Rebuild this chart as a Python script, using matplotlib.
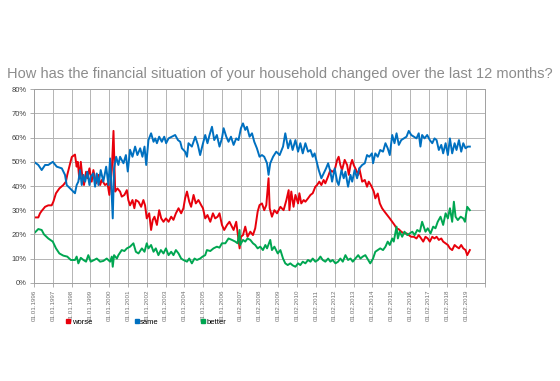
import matplotlib
matplotlib.use("Agg")
import matplotlib.pyplot as plt
from matplotlib.lines import Line2D

plt.rcParams['font.family'] = ['Liberation Sans', 'DejaVu Sans']

# decimal years and percentages
worse_t = [1996.00, 1996.23, 1996.32, 1996.41, 1996.59, 1996.76, 1996.94, 1997.03, 1997.17, 1997.35,
           1997.56, 1997.70, 1997.77, 1997.88, 1998.01, 1998.18, 1998.27, 1998.33, 1998.41, 1998.49,
           1998.59, 1998.66, 1998.77, 1998.84, 1998.95, 1999.07, 1999.16, 1999.30, 1999.43, 1999.52,
           1999.61, 1999.78, 1999.91, 2000.01, 2000.14, 2000.23, 2000.32, 2000.44, 2000.58, 2000.67,
           2000.81, 2000.94, 2001.02, 2001.11, 2001.24, 2001.34, 2001.42, 2001.56, 2001.70, 2001.82,
           2001.91, 2002.00, 2002.13, 2002.23, 2002.32, 2002.41, 2002.54, 2002.66, 2002.77, 2002.89,
           2003.02, 2003.16, 2003.30, 2003.42, 2003.55, 2003.69, 2003.83, 2003.95, 2004.04, 2004.14,
           2004.26, 2004.36, 2004.49, 2004.61, 2004.75, 2004.90, 2004.99, 2005.11, 2005.23, 2005.38,
           2005.52, 2005.64, 2005.77, 2005.87, 2006.00, 2006.12, 2006.27, 2006.40, 2006.53, 2006.62,
           2006.76, 2006.83, 2006.94, 2007.01, 2007.12, 2007.24, 2007.36, 2007.51, 2007.65, 2007.77,
           2007.90, 2008.00, 2008.13, 2008.25, 2008.36, 2008.48, 2008.54, 2008.66, 2008.79, 2008.93,
           2009.11, 2009.28, 2009.43, 2009.55, 2009.59, 2009.69, 2009.81, 2009.91, 2010.05, 2010.12,
           2010.22, 2010.35, 2010.44, 2010.58, 2010.71, 2010.83, 2010.97, 2011.06, 2011.18, 2011.29,
           2011.41, 2011.50, 2011.65, 2011.77, 2011.86, 2012.00, 2012.13, 2012.21, 2012.30, 2012.39,
           2012.53, 2012.66, 2012.75, 2012.84, 2012.93, 2013.01, 2013.14, 2013.25, 2013.31, 2013.46,
           2013.60, 2013.72, 2013.81, 2013.95, 2014.08, 2014.16, 2014.29, 2014.40, 2014.52, 2014.65,
           2014.79, 2014.93, 2015.06, 2015.18, 2015.29, 2015.41, 2015.54, 2015.68, 2015.82, 2015.94,
           2016.07, 2016.21, 2016.35, 2016.47, 2016.60, 2016.71, 2016.83, 2016.95, 2017.06, 2017.19,
           2017.31, 2017.42, 2017.54, 2017.67, 2017.77, 2017.90, 2018.02, 2018.13, 2018.25, 2018.38,
           2018.48, 2018.61, 2018.73, 2018.84, 2018.96, 2019.05, 2019.19]
worse = [27, 27, 28.7, 29.7, 31.4, 32, 32, 33.5, 37, 39,
         40.4, 41.8, 44.6, 48, 52, 53, 48, 50, 43, 50,
         42.5, 40.4, 45.9, 43.2, 47.3, 41.8, 46.6, 41.1, 44.6, 40.4,
         42.5, 40.4, 41.1, 36.3, 46.6, 62.8, 37.7, 39, 37.7, 35.6,
         36.3, 38.3, 34.2, 32, 34.2, 30.8, 34.2, 33.5, 31.4, 34.2,
         32, 26.6, 28.7, 21.8, 26, 27.3, 23.9, 30, 26.6, 25.2,
         26.6, 25.2, 27.3, 26, 28.7, 30.8, 28.7, 30.8, 34.9, 37.7,
         33.5, 31.4, 36.3, 32.8, 34.2, 32, 30.8, 26.6, 28, 25.2,
         28.7, 26.6, 27.3, 28.7, 23.9, 21.8, 23.9, 25.2, 23.2, 21.8,
         25.2, 21, 14.2, 19, 19.7, 23.2, 19, 21.1, 19.7, 22.5,
         29.4, 32.1, 32.8, 30, 32.1, 43.2, 30.8, 27.3, 30, 28.7,
         31.4, 30, 34.2, 38.3, 30, 37.7, 31.4, 36.3, 32.8, 37,
         32.8, 34.2, 33.5, 34.9, 36.3, 37, 39.7, 40.4, 41.8, 40.4,
         42.5, 41.1, 44, 46.6, 45.9, 46.6, 50.8, 52.1, 48.7, 46.6,
         50.8, 48.7, 44.6, 48.7, 50.8, 48.7, 46.6, 44.6, 47.3, 41.8,
         42.5, 39.7, 41.8, 40, 37.7, 34.9, 36.9, 32.8, 30.8, 29.4,
         28, 26.6, 25.2, 23.9, 22.5, 22.1, 21.1, 20.4, 20.4, 19.7,
         19, 19, 18.3, 19.7, 18.3, 17, 19, 18.3, 17, 19,
         18.3, 19, 17.7, 18.3, 17, 16.3, 15.6, 14.2, 13.5, 15.6,
         14.9, 14.2, 15.6, 14.2, 13.5, 11.4, 13.5]

same_t = [1996.00, 1996.23, 1996.41, 1996.59, 1996.76, 1997.00, 1997.21, 1997.48, 1997.65, 1997.74,
          1997.92, 1998.18, 1998.27, 1998.36, 1998.45, 1998.54, 1998.63, 1998.72, 1998.84, 1998.95,
          1999.02, 1999.16, 1999.25, 1999.34, 1999.43, 1999.55, 1999.69, 1999.84, 1999.96, 2000.05,
          2000.19, 2000.26, 2000.37, 2000.49, 2000.58, 2000.76, 2000.89, 2000.99, 2001.11, 2001.24,
          2001.38, 2001.50, 2001.65, 2001.77, 2001.88, 2001.97, 2002.09, 2002.23, 2002.36, 2002.45,
          2002.54, 2002.66, 2002.80, 2002.93, 2003.03, 2003.16, 2003.34, 2003.51, 2003.66, 2003.78,
          2003.87, 2004.04, 2004.14, 2004.22, 2004.40, 2004.58, 2004.72, 2004.84, 2004.97, 2005.11,
          2005.23, 2005.34, 2005.47, 2005.59, 2005.73, 2005.87, 2006.00, 2006.09, 2006.23, 2006.35,
          2006.48, 2006.62, 2006.76, 2006.88, 2007.01, 2007.12, 2007.24, 2007.33, 2007.47, 2007.60,
          2007.72, 2007.86, 2008.00, 2008.13, 2008.25, 2008.40, 2008.48, 2008.57, 2008.72, 2008.89,
          2009.07, 2009.25, 2009.37, 2009.52, 2009.64, 2009.76, 2009.91, 2010.05, 2010.17, 2010.30,
          2010.44, 2010.58, 2010.71, 2010.83, 2010.93, 2011.06, 2011.15, 2011.29, 2011.41, 2011.54,
          2011.65, 2011.77, 2011.86, 2012.00, 2012.13, 2012.21, 2012.36, 2012.48, 2012.57, 2012.71,
          2012.84, 2012.93, 2013.06, 2013.19, 2013.31, 2013.46, 2013.60, 2013.72, 2013.84, 2013.98,
          2014.04, 2014.16, 2014.29, 2014.42, 2014.57, 2014.70, 2014.82, 2014.93, 2015.06, 2015.18,
          2015.29, 2015.41, 2015.54, 2015.68, 2015.82, 2015.94, 2016.07, 2016.21, 2016.35, 2016.47,
          2016.56, 2016.65, 2016.78, 2016.92, 2017.06, 2017.19, 2017.31, 2017.42, 2017.54, 2017.67,
          2017.77, 2017.90, 2018.02, 2018.13, 2018.25, 2018.38, 2018.48, 2018.61, 2018.73, 2018.84,
          2018.96, 2019.08, 2019.19]
same = [50, 48.7, 46.6, 48.7, 48.7, 50, 48, 47.3, 44.6, 40.4,
        39, 37, 40.4, 41.8, 46.6, 40.4, 44.6, 41.8, 45.9, 40.4,
        43.9, 45.2, 39.7, 45.2, 40.4, 46.6, 41.8, 48, 40.4, 51.4,
        26.6, 47.3, 52.1, 48.7, 52.1, 49.4, 52.8, 46, 55, 52.1,
        56.3, 52.8, 55.6, 52.1, 56.3, 48.7, 59, 61.8, 58.3, 59.7,
        57.7, 60.4, 58.3, 60.4, 57.7, 59.7, 60.4, 61.1, 59, 58.3,
        55.6, 54.2, 52.1, 57.7, 56.3, 60.4, 57, 52.8, 57, 61.1,
        57.7, 61.1, 64.5, 59, 61.1, 56.3, 59.7, 63.9, 60.4, 58.3,
        60.4, 57, 59.7, 59, 63.9, 65.9, 63.2, 64.5, 60.4, 61.8,
        58.3, 55.6, 52.1, 52.8, 52.1, 49.4, 44.6, 49.4, 52.1, 54.2,
        52.8, 56.3, 61.8, 55.6, 59, 54.9, 59, 54.2, 57.7, 53.5,
        57.7, 54.2, 54.9, 52.1, 53.5, 49.4, 46.6, 43.2, 45.2, 47.3,
        49.4, 45.9, 41.8, 47.3, 41.8, 40.4, 46.6, 43.2, 45.9, 39.7,
        44.6, 41.8, 46.6, 43.2, 47.3, 48.7, 49.4, 52.8, 52.1, 53.5,
        49.4, 53.5, 52.1, 54.9, 54.2, 57.7, 55.6, 52.8, 61.1, 57.7,
        61.8, 57, 59, 59.7, 60.4, 62.8, 61.1, 60.4, 59.7, 61.8,
        56.3, 61.1, 59.7, 61.1, 59, 57.7, 59.7, 59, 54.9, 57,
        53.5, 57.7, 52.8, 59.7, 53.5, 57.7, 54.9, 59, 54.2, 57.7,
        55.6, 56.3, 56.3]

better_t = [1996.00, 1996.23, 1996.41, 1996.53, 1996.76, 1997.00, 1997.17, 1997.35, 1997.56, 1997.77,
            1997.96, 1998.18, 1998.27, 1998.36, 1998.49, 1998.63, 1998.77, 1998.89, 1999.02, 1999.20,
            1999.34, 1999.52, 1999.69, 1999.87, 2000.05, 2000.14, 2000.19, 2000.26, 2000.41, 2000.49,
            2000.67, 2000.81, 2000.94, 2001.11, 2001.29, 2001.42, 2001.56, 2001.74, 2001.88, 2002.00,
            2002.09, 2002.23, 2002.36, 2002.48, 2002.62, 2002.75, 2002.89, 2003.02, 2003.16, 2003.30,
            2003.42, 2003.55, 2003.69, 2003.83, 2003.95, 2004.14, 2004.26, 2004.40, 2004.54, 2004.67,
            2004.84, 2004.97, 2005.11, 2005.20, 2005.38, 2005.55, 2005.73, 2005.87, 2006.00, 2006.18,
            2006.35, 2006.53, 2006.71, 2006.83, 2006.94, 2006.97, 2007.12, 2007.24, 2007.36, 2007.51,
            2007.65, 2007.77, 2007.90, 2008.04, 2008.18, 2008.31, 2008.40, 2008.57, 2008.66, 2008.79,
            2008.97, 2009.11, 2009.25, 2009.37, 2009.50, 2009.64, 2009.76, 2009.91, 2010.05, 2010.17,
            2010.30, 2010.44, 2010.58, 2010.71, 2010.83, 2010.97, 2011.11, 2011.24, 2011.36, 2011.50,
            2011.65, 2011.77, 2011.89, 2012.04, 2012.18, 2012.30, 2012.43, 2012.57, 2012.71, 2012.84,
            2012.96, 2013.10, 2013.25, 2013.37, 2013.49, 2013.63, 2013.78, 2013.89, 2014.04, 2014.16,
            2014.29, 2014.42, 2014.57, 2014.70, 2014.82, 2014.93, 2015.06, 2015.14, 2015.29, 2015.36,
            2015.46, 2015.59, 2015.71, 2015.86, 2016.00, 2016.13, 2016.25, 2016.39, 2016.53, 2016.65,
            2016.74, 2016.83, 2016.95, 2017.10, 2017.24, 2017.36, 2017.48, 2017.63, 2017.77, 2017.90,
            2018.02, 2018.13, 2018.25, 2018.34, 2018.43, 2018.55, 2018.70, 2018.84, 2018.93, 2019.05,
            2019.19]
better = [20.4, 22.2, 21.8, 20, 18.3, 17, 14.2, 12.1, 11.2, 10.8,
          9.4, 9.4, 10.8, 8, 10.3, 9.4, 8.7, 11.4, 8.7, 9.4,
          10, 8.7, 9, 10, 8.7, 10.8, 6.6, 11.4, 10, 11.4,
          13.5, 13.1, 14.2, 14.9, 16.3, 12.8, 12.1, 14.2, 12.8, 16.3,
          14.2, 15.6, 12.8, 14.2, 11.4, 13.5, 12.1, 14.2, 11.4, 12.8,
          11.4, 13.5, 12.1, 10, 9.4, 8.7, 10, 8, 10, 9.4,
          10, 10.8, 11.4, 13.5, 13.1, 14.2, 14.9, 14.5, 16.3, 16.3,
          18.3, 17.7, 17, 16.3, 21.8, 15.6, 17.7, 17, 18.3, 17.7,
          16.3, 15.6, 14.2, 14.9, 13.5, 15.6, 14.2, 17.7, 13.5, 14.9,
          12.1, 13.5, 10, 8, 7.3, 8, 7.2, 6.6, 8, 7.3,
          8.7, 8, 9.4, 8.7, 10, 8.7, 9.4, 10.8, 9.4, 8.7,
          10, 8.7, 9.4, 8, 8.7, 10, 8.7, 11.4, 9.4, 10,
          8.7, 10, 11.4, 10, 10.8, 11.4, 9.4, 8, 10, 12.8,
          13.5, 14.2, 13.5, 14.9, 17, 15.6, 18.3, 17, 23.2, 18.3,
          21.1, 19, 21.1, 19.7, 20.4, 21.1, 19.7, 21.8, 21.1, 25.2,
          23.2, 21.1, 22.5, 20.4, 23.2, 22.5, 25.2, 27.3, 23.9, 28.7,
          26.6, 30.8, 25.2, 33.5, 27.3, 25.9, 27.3, 26.6, 25.2, 31.4,
          30]

years = list(range(1996, 2020))
year_labels = ['01.01.%d' % y if y <= 2006 else '01.02.%d' % y for y in years]
pct_ticks = [0, 10, 20, 30, 40, 50, 60, 70, 80]

title = 'How has the financial situation of your household changed over the last 12 months?'

fig = plt.figure(figsize=(5.6, 3.81), dpi=100)
ax = fig.add_axes([0.0607, 0.258, 0.8055, 0.5076])

ax.plot(worse_t, worse, color='#e8000b', lw=1.4, label='worse')
ax.plot(same_t, same, color='#0070c0', lw=1.4, label='same')
ax.plot(better_t, better, color='#00a651', lw=1.4, label='better')

ax.set_xlim(1996, 2020)
ax.set_ylim(0, 80)
ax.set_xticks(years + [2020])
ax.set_xticklabels(year_labels + [''], rotation=90, fontsize=4.5, color='#707070')
ax.set_yticks(pct_ticks)
ax.set_yticklabels(['%d%%' % v for v in pct_ticks], fontsize=5.5, color='#404040')
ax.grid(True, color='#b4b4b4', lw=0.7)
ax.set_axisbelow(True)
for s in ax.spines.values():
    s.set_color('#a0a0a0')
    s.set_linewidth(0.7)
ax.tick_params(axis='both', length=3, width=0.6, color='#a0a0a0', pad=2)

fig.text(0.5, 0.806, title, ha='center', va='center', fontsize=10.5, color='#8c8c8c')

handles = [Line2D([], [], ls='none', marker='s', ms=3, color=c)
           for c in ['#e8000b', '#0070c0', '#00a651']]
fig.legend(handles, ['worse', 'same', 'better'], loc='center left',
           bbox_to_anchor=(0.113, 0.155), ncol=3, frameon=False, fontsize=5.5,
           handlelength=0.5, handletextpad=0.2, columnspacing=5.6, borderaxespad=0)

fig.savefig('out.png', dpi=100)
